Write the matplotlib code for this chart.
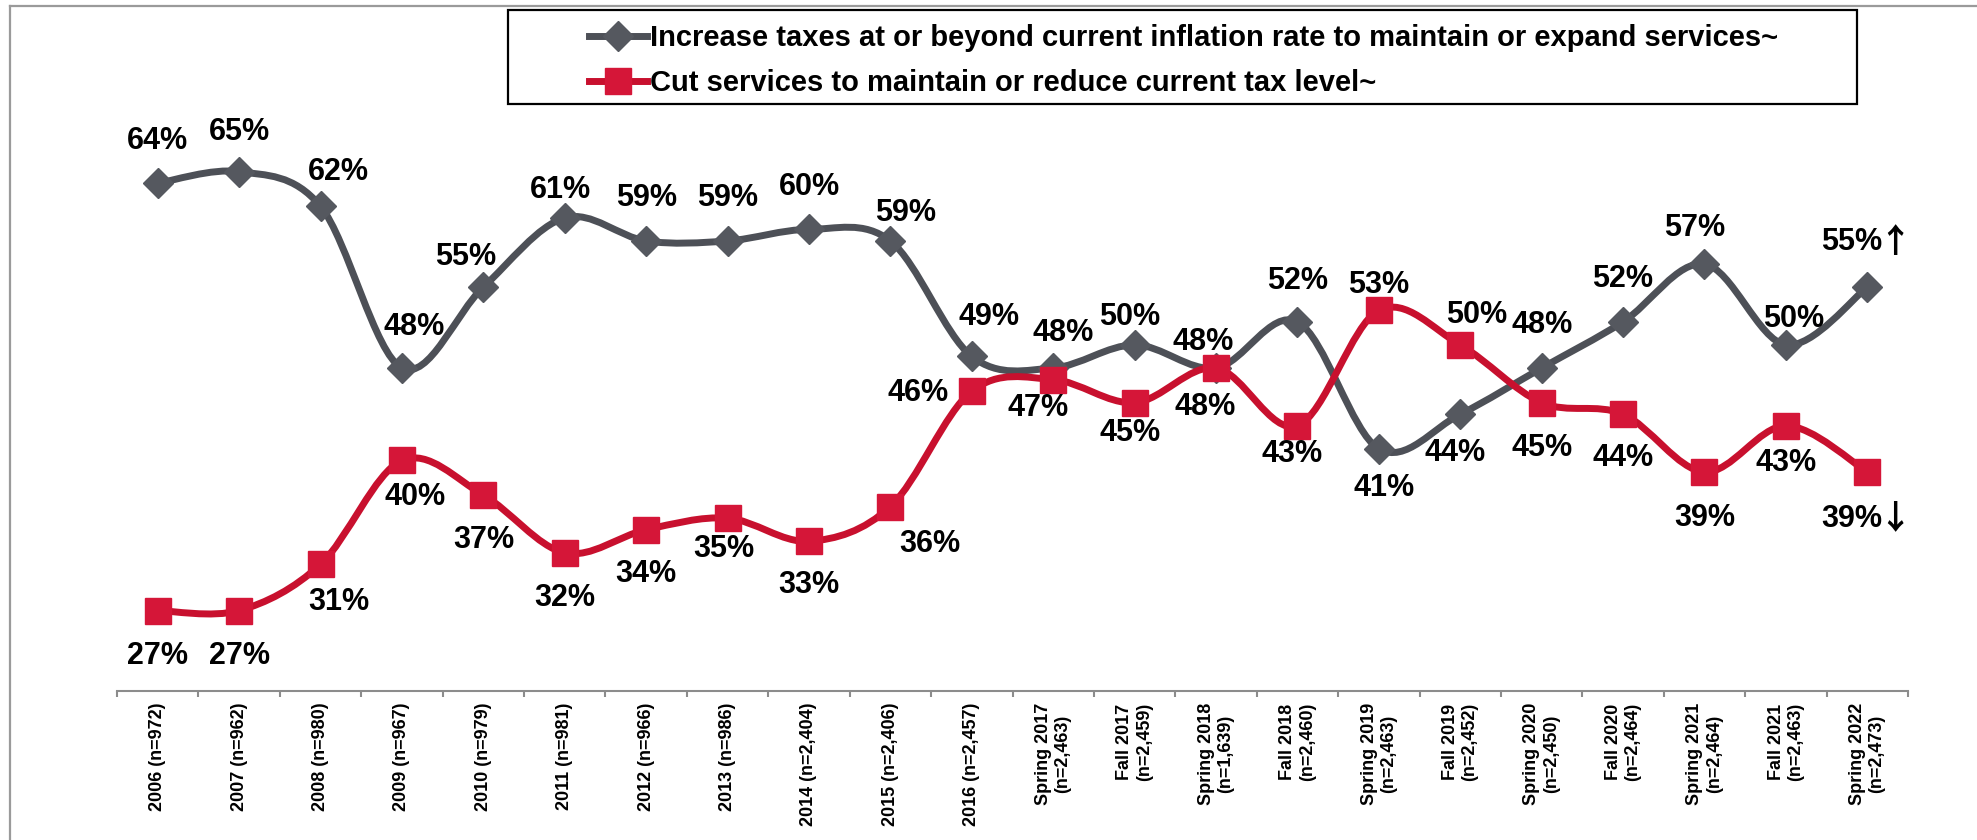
import numpy as np
import matplotlib
matplotlib.use("Agg")
import matplotlib.pyplot as plt
from matplotlib.path import Path
from matplotlib.patches import PathPatch, Rectangle
from matplotlib.lines import Line2D

# ---------------- data ----------------
categories = [
    "2006 (n=972)", "2007 (n=962)", "2008 (n=980)", "2009 (n=967)",
    "2010 (n=979)", "2011 (n=981)", "2012 (n=966)", "2013 (n=986)",
    "2014 (n=2,404)", "2015 (n=2,406)", "2016 (n=2,457)",
    "Spring 2017\n(n=2,463)", "Fall 2017\n(n=2,459)", "Spring 2018\n(n=1,639)",
    "Fall 2018\n(n=2,460)", "Spring 2019\n(n=2,463)", "Fall 2019\n(n=2,452)",
    "Spring 2020\n(n=2,450)", "Fall 2020\n(n=2,464)", "Spring 2021\n(n=2,464)",
    "Fall 2021\n(n=2,463)", "Spring 2022\n(n=2,473)",
]
increase_taxes = [64, 65, 62, 48, 55, 61, 59, 59, 60, 59, 49, 48, 50, 48, 52, 41, 44, 48, 52, 57, 50, 55]
cut_services = [27, 27, 31, 40, 37, 32, 34, 35, 33, 36, 46, 47, 45, 48, 43, 53, 50, 45, 44, 39, 43, 39]
series_names = [
    "Increase taxes at or beyond current inflation rate to maintain or expand services~",
    "Cut services to maintain or reduce current tax level~",
]
trend_marks = ["\u2191", "\u2193"]

# ---------------- style ----------------
# label offsets in pixels (dx, dy_down) relative to each marker
gray_off = [(0, -42), (0, -40), (18, -34), (12, -41), (-18, -30), (-4, -28), (0, -43),
            (0, -43), (0, -42), (15, -28), (17, -39), (10, -35), (-5, -28), (-13, -26),
            (0, -41), (5, 39), (-5, 39), (0, -43), (0, -43), (-10, -36), (8, -26), (-16, -45)]
red_off = [(0, 45), (0, 45), (18, 38), (13, 37), (0, 45), (0, 45), (0, 44), (-4, 31),
           (0, 44), (39, 37), (-54, 2), (-15, 28), (-5, 30), (-11, 39), (-5, 28), (0, -25),
           (16, -30), (0, 45), (0, 44), (0, 46), (0, 37), (-16, 47)]
arrow_dx = 28

GRAY_LINE = "#4D5057"
GRAY_MARK = "#55585F"
RED_LINE = "#C8102E"
RED_MARK = "#D51638"
FONT = ["Liberation Sans", "DejaVu Sans"]

plt.rcParams["font.family"] = FONT

W, H = 1977, 840
fig = plt.figure(figsize=(W / 100, H / 100), dpi=100)

ax_left, ax_right = 117 / W, 1908 / W
ax_bot = (H - 691.4) / H
ax_top = 1.0019
ax = fig.add_axes([ax_left, ax_bot, ax_right - ax_left, ax_top - ax_bot])
ax.set_xlim(-0.5, len(categories) - 0.5)
ax.set_ylim(20, 80)
ax.patch.set_alpha(0)


def smooth_path(xs, ys):
    P = np.column_stack([xs, ys]).astype(float)
    n = len(P)
    verts = [P[0]]
    codes = [Path.MOVETO]
    for i in range(n - 1):
        p0 = P[i - 1] if i > 0 else P[i]
        p1 = P[i]
        p2 = P[i + 1]
        p3 = P[i + 2] if i + 2 < n else P[i + 1]
        c1 = p1 + (p2 - p0) / 6.0
        c2 = p2 - (p3 - p1) / 6.0
        verts += [c1, c2, p2]
        codes += [Path.CURVE4] * 3
    return Path(verts, codes)


x = np.arange(len(categories))

# gray series
ax.add_patch(PathPatch(smooth_path(x, increase_taxes), fill=False, edgecolor=GRAY_LINE,
                       lw=5, capstyle="round", joinstyle="round", zorder=2))
ax.plot(x, increase_taxes, linestyle="none", marker="D", ms=15.3, color=GRAY_MARK,
        mec=GRAY_MARK, zorder=3, clip_on=False)
# red series
ax.add_patch(PathPatch(smooth_path(x, cut_services), fill=False, edgecolor=RED_LINE,
                       lw=5, capstyle="round", joinstyle="round", zorder=4))
ax.plot(x, cut_services, linestyle="none", marker="s", ms=18.7, color=RED_MARK,
        mec=RED_MARK, zorder=5, clip_on=False)

n = len(categories)
for vals, offs, mark in ((increase_taxes, gray_off, trend_marks[0]),
                         (cut_services, red_off, trend_marks[1])):
    for i, (v, (dx, dy)) in enumerate(zip(vals, offs)):
        ax.annotate(f"{v}%", (i, v), xytext=(dx, -dy), textcoords="offset pixels",
                    ha="center", va="center", fontsize=22, fontweight="bold",
                    color="black", zorder=6, annotation_clip=False)
        if i == n - 1:
            ax.annotate(mark, (i, v), xytext=(arrow_dx, -dy), textcoords="offset pixels",
                        ha="center", va="center", fontsize=24, fontweight="bold",
                        family=["Noto Sans CJK JP", "DejaVu Sans"], color="black",
                        zorder=6, annotation_clip=False)

# axes styling
for s in ("left", "right", "top"):
    ax.spines[s].set_visible(False)
ax.spines["bottom"].set_color("#8C8C8C")
ax.spines["bottom"].set_linewidth(1.5)
ax.set_yticks([])
ax.set_xticks(x)
ax.set_xticklabels(categories, rotation=90, fontsize=13, fontweight="bold",
                   multialignment="center")
ax.tick_params(axis="x", which="major", length=0, pad=8)
ax.set_xticks(np.arange(-0.5, n, 1.0), minor=True)
ax.tick_params(axis="x", which="minor", length=4, width=1.5, color="#8C8C8C", direction="out")

# legend
handles = [
    Line2D([], [], color=GRAY_LINE, lw=5, marker="D", ms=15.3, mfc=GRAY_MARK, mec=GRAY_MARK),
    Line2D([], [], color=RED_LINE, lw=5, marker="s", ms=18.7, mfc=RED_MARK, mec=RED_MARK),
]
leg = fig.legend(handles, series_names, loc="upper left",
                 bbox_to_anchor=(589 / W, 1 - 24 / H), bbox_transform=fig.transFigure,
                 frameon=False, prop={"family": FONT, "weight": "bold", "size": 21},
                 handlelength=2.0, handletextpad=0.1, borderpad=0, borderaxespad=0,
                 labelspacing=0.58)
fig.add_artist(Rectangle((508 / W, 1 - 104 / H), (1857 - 508) / W, 94 / H,
                         transform=fig.transFigure, fill=False, ec="black", lw=1.6, zorder=10))

# outer frame (top and left)
fig.add_artist(Line2D([10 / W, 1.0], [1 - 6 / H, 1 - 6 / H], transform=fig.transFigure,
                      color="#9A9A9A", lw=1.6))
fig.add_artist(Line2D([10 / W, 10 / W], [0, 1 - 6 / H], transform=fig.transFigure,
                      color="#9A9A9A", lw=1.6))

fig.savefig("out.png", dpi=100)
